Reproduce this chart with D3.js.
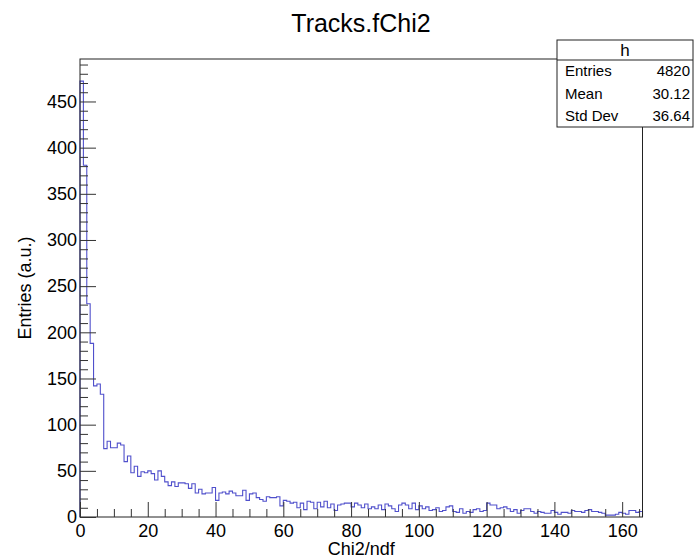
<!DOCTYPE html>
<html>
<head>
<meta charset="utf-8">
<script src="https://cdn.jsdelivr.net/npm/d3@7"></script>
<style>
  html, body { margin: 0; padding: 0; background: #fff; }
  svg { display: block; font-family: "Liberation Sans", Arial, Helvetica, sans-serif; }
</style>
</head>
<body>
<svg id="chart" width="695" height="560"></svg>
<script>
// ---- data ----
const chartTitle = "Tracks.fChi2";
const xTitle = "Chi2/ndf";
const yTitle = "Entries (a.u.)";
const xRange = [0, 166];
const yRange = [0, 496];
const xTickValues = [0, 20, 40, 60, 80, 100, 120, 140, 160];
const yTickValues = [0, 50, 100, 150, 200, 250, 300, 350, 400, 450];
const binCounts = [
  472, 381, 231, 188, 142, 144, 133,
  74, 82, 75, 75, 80, 78, 60, 66,
  48, 55, 44, 49, 48,
  50, 47, 40, 50, 44,
  38, 34, 38, 33, 37,
  37, 36, 31, 36, 26,
  30, 25, 26, 26, 32,
  18, 26, 27, 25, 28,
  26, 23, 23, 29, 18,
  25, 26, 21, 19, 17,
  22, 21, 21, 22, 12,
  18, 17, 15, 16, 10,
  15, 8, 17, 16, 9,
  16, 11, 17, 10, 14,
  7, 13, 14, 15, 15,
  11, 15, 13, 10, 14,
  9, 11, 9, 13, 8,
  14, 12, 9, 6, 13,
  15, 13, 9, 15, 8,
  12, 9, 11, 7, 8,
  10, 6, 7, 11, 12,
  6, 5, 9, 4, 6,
  5, 8, 9, 6, 7,
  15, 13, 13, 9, 10,
  11, 9, 6, 8, 4,
  7, 9, 9, 6, 4,
  6, 5, 4, 4, 7,
  5, 3, 5, 5, 4,
  7, 6, 6, 5, 7,
  8, 6, 6, 5, 4,
  2, 2, 2, 3, 5,
  4, 3, 7, 7, 5, 6
];
const statsName = "h";
const statsLabels = ["Entries", "Mean", "Std Dev"];
const statsValues = ["4820", "30.12", "36.64"];

// ---- layout ----
const svg = d3.select("#chart");
const frame = { left: 80, right: 642.5, top: 59, bottom: 517 };
const x = d3.scaleLinear().domain(xRange).range([frame.left, frame.right]);
const y = d3.scaleLinear().domain(yRange).range([frame.bottom, frame.top]);
const axisColor = "#222";
const tickColor = "#333";
const fontSize = 18;

// histogram
const binW = (xRange[1] - xRange[0]) / binCounts.length;
const pts = [[xRange[0], 0]];
binCounts.forEach((c, i) => pts.push([xRange[0] + i * binW, c]));
pts.push([xRange[0] + binCounts.length * binW, binCounts[binCounts.length - 1]]);
pts.push([xRange[0] + binCounts.length * binW, 0]);
const line = d3.line().x(d => x(d[0])).y(d => y(d[1])).curve(d3.curveStepAfter);
svg.append("path").attr("d", line(pts))
  .attr("fill", "none").attr("stroke", "#5050cc").attr("stroke-width", 1.1);

// frame
svg.append("rect")
  .attr("x", frame.left).attr("y", frame.top)
  .attr("width", frame.right - frame.left).attr("height", frame.bottom - frame.top)
  .attr("fill", "none").attr("stroke", axisColor).attr("stroke-width", 1);

// x axis ticks (inside, pointing up)
const xMinor = d3.range(xRange[0], xRange[1] + 0.001, 5).filter(v => xTickValues.indexOf(v) < 0);
const xAxisMajor = d3.axisBottom(x).tickValues(xTickValues).tickSize(-15).tickFormat(d3.format("d"));
const gx = svg.append("g").attr("transform", `translate(0,${frame.bottom})`).call(xAxisMajor);
gx.select(".domain").remove();
gx.selectAll(".tick line").attr("stroke", tickColor);
gx.selectAll(".tick text").attr("font-size", fontSize).attr("font-family", "Liberation Sans, Arial, sans-serif")
  .attr("fill", "#000").attr("y", 7).attr("dy", "0.71em");
const gxm = svg.append("g").attr("transform", `translate(0,${frame.bottom})`)
  .call(d3.axisBottom(x).tickValues(xMinor).tickSize(-8).tickFormat(""));
gxm.select(".domain").remove();
gxm.selectAll(".tick line").attr("stroke", tickColor);

// y axis ticks (inside, pointing right)
const yMinor = d3.range(yRange[0], yRange[1], 10).filter(v => yTickValues.indexOf(v) < 0);
const gy = svg.append("g").attr("transform", `translate(${frame.left},0)`)
  .call(d3.axisLeft(y).tickValues(yTickValues).tickSize(-16).tickFormat(d3.format("d")));
gy.select(".domain").remove();
gy.selectAll(".tick line").attr("stroke", tickColor);
gy.selectAll(".tick text").attr("font-size", fontSize).attr("font-family", "Liberation Sans, Arial, sans-serif")
  .attr("fill", "#000").attr("x", -3);
const gym = svg.append("g").attr("transform", `translate(${frame.left},0)`)
  .call(d3.axisLeft(y).tickValues(yMinor).tickSize(-8).tickFormat(""));
gym.select(".domain").remove();
gym.selectAll(".tick line").attr("stroke", tickColor);

// titles
svg.append("text").attr("x", 361).attr("y", 32).attr("text-anchor", "middle")
  .attr("font-size", 25).text(chartTitle);
svg.append("text").attr("x", (frame.left + frame.right) / 2).attr("y", 555).attr("text-anchor", "middle")
  .attr("font-size", fontSize).text(xTitle);
svg.append("text").attr("transform", `translate(31,${(frame.top + frame.bottom) / 2}) rotate(-90)`)
  .attr("text-anchor", "middle").attr("font-size", fontSize).text(yTitle);

// stats box
const sb = { x: 557, y: 40, w: 136, h: 87, head: 20 };
svg.append("rect").attr("x", sb.x).attr("y", sb.y).attr("width", sb.w).attr("height", sb.h)
  .attr("fill", "#fff").attr("stroke", axisColor).attr("stroke-width", 1);
svg.append("line").attr("x1", sb.x).attr("x2", sb.x + sb.w)
  .attr("y1", sb.y + sb.head).attr("y2", sb.y + sb.head).attr("stroke", axisColor);
svg.append("text").attr("x", sb.x + sb.w / 2).attr("y", sb.y + 16).attr("text-anchor", "middle")
  .attr("font-size", 17).text(statsName);
const rowH = (sb.h - sb.head) / statsLabels.length;
statsLabels.forEach((lab, i) => {
  const by = sb.y + sb.head + rowH * i + rowH / 2 + 5;
  svg.append("text").attr("x", sb.x + 8).attr("y", by).attr("font-size", 15).text(lab);
  svg.append("text").attr("x", sb.x + sb.w - 3).attr("y", by).attr("text-anchor", "end")
    .attr("font-size", 15).text(statsValues[i]);
});
</script>
</body>
</html>
